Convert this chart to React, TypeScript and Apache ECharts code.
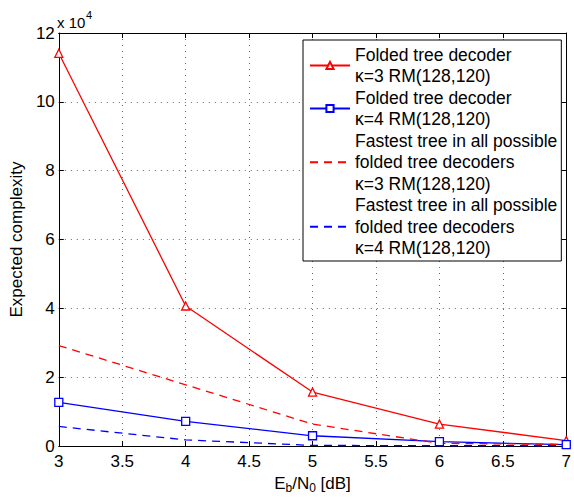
import React, { useEffect, useRef } from "react";
import * as echarts from "echarts";

const xValues = [3, 4, 5, 6, 7];
const foldedK3 = [11.41, 4.07, 1.57, 0.64, 0.16];
const foldedK4 = [1.27, 0.72, 0.3, 0.13, 0.04];
const fastestK3 = [2.92, 1.78, 0.64, 0.08, 0.05];
const fastestK4 = [0.57, 0.18, 0.02, 0.01, 0.01];

const seriesNames = [
  "Folded tree decoder\nκ=3 RM(128,120)",
  "Folded tree decoder\nκ=4 RM(128,120)",
  "Fastest tree in all possible\nfolded tree decoders\nκ=3 RM(128,120)",
  "Fastest tree in all possible\nfolded tree decoders\nκ=4 RM(128,120)",
];

const FONT = "'Liberation Sans', Arial, Helvetica, sans-serif";
const RED = "#ff0000";
const BLUE = "#0000ff";

function pairs(ys: number[]) {
  return xValues.map((x, i) => [x, ys[i]]);
}

export default function App() {
  const ref = useRef<HTMLDivElement>(null);
  useEffect(() => {
    if (!ref.current) return;
    const chart = echarts.init(ref.current, null, { renderer: "svg" });
    const gridLine = { show: true, lineStyle: { color: "#666", width: 1, type: [1, 5] as any } };
    const axisLine = { show: true, onZero: false, lineStyle: { color: "#000", width: 1 } };
    const tick = { show: true, inside: true, length: 5, lineStyle: { color: "#000" } };
    chart.setOption({
      animation: false,
      backgroundColor: "#fff",
      grid: { left: 56, top: 33, width: 515, height: 416, containLabel: false },
      xAxis: [
        {
          type: "value",
          min: 3,
          max: 7,
          interval: 0.5,
          axisLine,
          axisTick: tick,
          splitLine: gridLine,
          axisLabel: { color: "#000", fontSize: 17, fontFamily: FONT, margin: 7 },
          name: "{n|E}{s|b}{n|/N}{s|0}{n| [dB]}",
          nameLocation: "middle",
          nameGap: 24,
          nameTextStyle: {
            color: "#000",
            fontFamily: FONT,
            rich: {
              n: { fontSize: 17, fontFamily: FONT, color: "#000", verticalAlign: "top", lineHeight: 19 },
              s: { fontSize: 12, fontFamily: FONT, color: "#000", verticalAlign: "bottom", lineHeight: 12 },
            },
          },
        },
        {
          type: "value",
          position: "top",
          min: 3,
          max: 7,
          interval: 0.5,
          axisLine,
          axisTick: tick,
          splitLine: { show: false },
          axisLabel: { show: false },
        },
      ],
      yAxis: [
        {
          type: "value",
          min: 0,
          max: 12,
          interval: 2,
          axisLine,
          axisTick: tick,
          splitLine: gridLine,
          axisLabel: { color: "#000", fontSize: 17, fontFamily: FONT, margin: 4 },
          name: "Expected complexity",
          nameLocation: "middle",
          nameGap: 32,
          nameTextStyle: { color: "#000", fontSize: 17, fontFamily: FONT },
        },
        {
          type: "value",
          position: "right",
          min: 0,
          max: 12,
          interval: 2,
          axisLine,
          axisTick: tick,
          splitLine: { show: false },
          axisLabel: { show: false },
        },
      ],
      legend: {
        orient: "vertical",
        left: 303,
        top: 40,
        padding: [4, 4, 2, 6],
        itemGap: 0,
        itemWidth: 40,
        itemHeight: 9,
        backgroundColor: "#fff",
        borderColor: "#000",
        borderWidth: 1,
        borderRadius: 0,
        textStyle: { color: "#000", fontSize: 17.5, lineHeight: 21.5, fontFamily: FONT },
        data: [
          { name: seriesNames[0] },
          { name: seriesNames[1] },
          { name: seriesNames[2], itemStyle: { opacity: 0 } },
          { name: seriesNames[3], itemStyle: { opacity: 0 } },
        ],
      },
      graphic: [
        {
          type: "text",
          left: 57,
          top: 15,
          style: { text: "x 10", fontSize: 15, fontFamily: FONT, fill: "#000" },
        },
        {
          type: "text",
          left: 86,
          top: 9,
          style: { text: "4", fontSize: 11, fontFamily: FONT, fill: "#000" },
        },
      ],
      series: [
        {
          name: seriesNames[0],
          type: "line",
          data: pairs(foldedK3),
          symbol: "triangle",
          symbolSize: 8,
          lineStyle: { color: RED, width: 1.3 },
          itemStyle: { color: "#fff", borderColor: RED, borderWidth: 1.3 },
        },
        {
          name: seriesNames[1],
          type: "line",
          data: pairs(foldedK4),
          symbol: "rect",
          symbolSize: 8,
          lineStyle: { color: BLUE, width: 1.3 },
          itemStyle: { color: "#fff", borderColor: BLUE, borderWidth: 1.3 },
        },
        {
          name: seriesNames[2],
          type: "line",
          data: pairs(fastestK3),
          symbol: "none",
          lineStyle: { color: RED, width: 1.3, type: [8, 6] },
          itemStyle: { color: RED },
        },
        {
          name: seriesNames[3],
          type: "line",
          data: pairs(fastestK4),
          symbol: "none",
          lineStyle: { color: BLUE, width: 1.3, type: [8, 6] },
          itemStyle: { color: BLUE },
        },
      ],
    });
    return () => chart.dispose();
  }, []);
  return <div ref={ref} style={{ width: 574, height: 499, position: "absolute", left: 0, top: 0 }} />;
}
